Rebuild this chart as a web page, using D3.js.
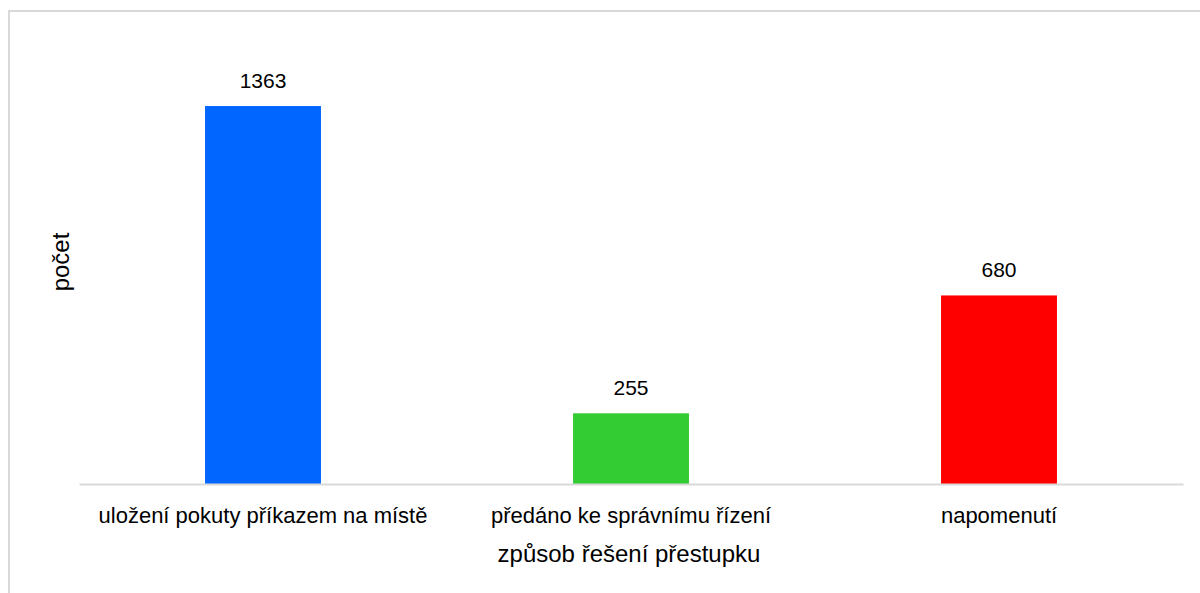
<!DOCTYPE html>
<html><head><meta charset="utf-8">
<script src="https://cdn.jsdelivr.net/npm/d3@7"></script>
<style>body{margin:0;background:#fff;}svg{display:block;}text{font-family:"Liberation Sans",Arial,sans-serif;fill:#000;}</style>
</head><body>
<svg id="c" width="1200" height="593"></svg>
<script>
const categories = ["uložení pokuty příkazem na místě", "předáno ke správnímu řízení", "napomenutí"];
const values = [1363, 255, 680];
const colors = ["#0066FF", "#33CC33", "#FF0000"];
const xTitle = "způsob řešení přestupku";
const yTitle = "počet";

const svg = d3.select("#c");
svg.append("rect").attr("x",9).attr("y",11).attr("width",1200).attr("height",600)
  .attr("fill","#fff").attr("stroke","#d9d9d9").attr("stroke-width",2);

const left = 79, right = 1183, baseY = 484;
const x = d3.scaleBand().domain(categories).range([left,right]).paddingInner(0.685).paddingOuter(0.3425);
const y = d3.scaleLinear().domain([0,1600]).range([baseY, baseY - 1600*0.2773]);

svg.selectAll(".bar").data(values).join("rect")
  .attr("x",(d,i)=>x(categories[i])).attr("width",x.bandwidth())
  .attr("y",d=>y(d)).attr("height",d=>baseY-y(d)).attr("fill",(d,i)=>colors[i]);

svg.selectAll(".val").data(values).join("text")
  .attr("x",(d,i)=>x(categories[i])+x.bandwidth()/2).attr("y",d=>y(d)-18)
  .attr("text-anchor","middle").attr("font-size",21).text(d=>d);

const ax = svg.append("g").attr("transform",`translate(0,${baseY})`).call(d3.axisBottom(x).tickSize(0).tickPadding(0));
ax.select(".domain").attr("stroke","#d9d9d9").attr("stroke-width",2);
ax.selectAll(".tick text").attr("dy",null).attr("y",39).attr("font-size",22)
  .style("font-family",'"Liberation Sans",Arial,sans-serif').attr("fill","#000");

svg.append("text").attr("x",629).attr("y",562).attr("text-anchor","middle").attr("font-size",24).text(xTitle);
svg.append("text").attr("transform","translate(69,262) rotate(-90)").attr("text-anchor","middle").attr("font-size",24).text(yTitle);
</script>
</body></html>
